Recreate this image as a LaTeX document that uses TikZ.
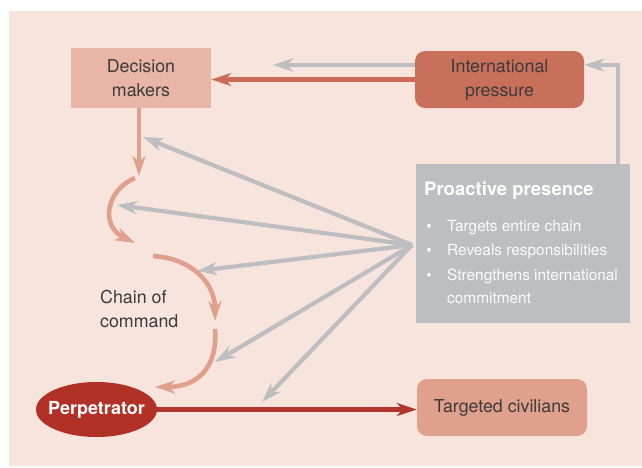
\documentclass[tikz,border=0pt]{standalone}
\usepackage{fontspec}
\setmainfont{TeX Gyre Heros}
\usepackage{xcolor}
\usetikzlibrary{
    arrows.meta,
    shapes.geometric,
    positioning,
    calc
}
\definecolor{bgpink}{HTML}{F7E4DD}
\definecolor{dmfill}{HTML}{E8B5A6}
\definecolor{ipfill}{HTML}{C9705A}
\definecolor{iparrow}{HTML}{CC6B55}
\definecolor{ppgrey}{HTML}{BDBEC1}
\definecolor{perpred}{HTML}{B23126}
\definecolor{perparrow}{HTML}{B3342A}
\definecolor{tcfill}{HTML}{DFA08C}
\definecolor{chainsalmon}{HTML}{E0A08B}
\definecolor{txtgrey}{HTML}{3B3B3B}

\begin{document}
\begin{tikzpicture}[x=1pt,y=-1pt,
    label text/.style={text=txtgrey,align=center,inner sep=0pt,font=\fontsize{17.8}{24}\selectfont},
    bullet text/.style={text=white!95!ppgrey,inner sep=0pt,font=\fontsize{15.4}{24}\selectfont},
    tip/.style={-{Stealth[length=20pt,width=13pt,inset=6pt]}},
    grey arrow/.style={tip,draw=ppgrey,line width=4.2pt},
    chain arrow/.style={tip,draw=chainsalmon,line width=4.6pt}]
    \useasboundingbox (0,0) rectangle (642,467);
    \fill[bgpink] (9,11) rectangle (642,466);
    % boxes
    \node[label text,fill=dmfill,minimum width=140pt,minimum height=60pt] (dm) at (141,78) {Decision\\makers};
    \node[label text,fill=ipfill,rounded corners=10pt,minimum width=169pt,minimum height=57pt] (ip) at (499.5,79.5) {International\\pressure};
    \node[fill=ppgrey,minimum width=214pt,minimum height=159pt,inner sep=0pt] (pp) at (523,243.5) {};
    \node[label text,fill=tcfill,rounded corners=10pt,minimum width=170pt,minimum height=57pt] (tc) at (502,407.5) {Targeted civilians};
    \node[ellipse,fill=perpred,text=white,font=\fontsize{18}{22}\selectfont\bfseries,minimum width=121pt,minimum height=55pt,inner xsep=-7pt,inner ysep=0pt] (perp) at (96.5,409.5) {Perpetrator};
    \node[label text,align=left,anchor=west] (coc) at (100,309) {Chain of\\command};
    % proactive presence text
    \node[text=white,font=\fontsize{18.5}{22}\selectfont\bfseries,inner sep=0pt,anchor=base west] (ppt) at (424,195) {Proactive presence};
    \foreach \i/\y/\t in {1/231/Targets entire chain,2/255/Reveals responsibilities,3/280/Strengthens international}{
        \node[bullet text,anchor=base] (d\i) at (429,\y) {\textbullet};
        \node[bullet text,anchor=base west] (b\i) at (447,\y) {\t};
    }
    \node[bullet text,anchor=base west] (b4) at (447,303) {commitment};
    % coordinates
    \coordinate (g1) at (273,65);
    \coordinate (g2) at (618,65);
    \coordinate (fan) at (412,245);
    \foreach \i/\x/\y in {1/143/137,2/117/205,3/197/271,4/215/362,5/262/402} \coordinate (t\i) at (\x,\y);
    \coordinate (c0) at (139,176);
    \coordinate (c1) at (135,178);
    \coordinate (c2) at (135,243);
    \coordinate (c3) at (153,256);
    \coordinate (c4) at (215,321);
    \coordinate (c5) at (215,329);
    \coordinate (c6) at (155,387);
    % grey arrows
    \draw[grey arrow] (ip.west |- g1) -- (g1);
    \draw[grey arrow] (pp.north -| g2) -- (g2) -- (ip.east |- g2);
    \foreach \i in {1,...,5} \draw[grey arrow] (fan) -- (t\i);
    % red arrows
    \draw[tip,draw=iparrow,line width=4.6pt] (ip.west) -- (ip.west -| dm.east);
    \draw[tip,draw=perparrow,line width=5pt] (perp.east) -- (perp.east -| tc.west);
    % chain of command
    \draw[chain arrow] (dm.south -| c0) -- (c0);
    \draw[chain arrow] (c1) .. controls (106,190) and (100,226) .. (c2);
    \draw[chain arrow] (c3) .. controls (190,258) and (215,282) .. (c4);
    \draw[chain arrow] (c5) .. controls (218,370) and (195,387) .. (c6);
\end{tikzpicture}
\end{document}
